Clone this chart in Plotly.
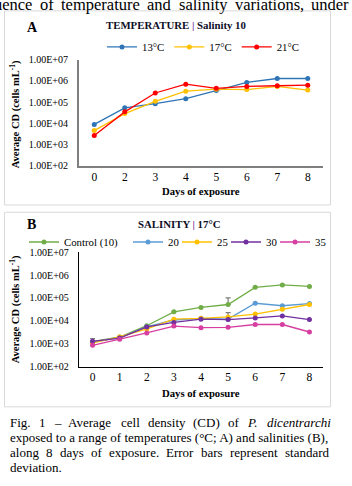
import plotly.graph_objects as go

W, H = 352, 486
def px(x): return x / W
def py(y): return 1 - y / H

SERIF = "Liberation Serif, Times New Roman, Tinos, serif"

# ---------------- data ----------------
days_a = ["0", "2", "3", "4", "5", "6", "7", "8"]
t13 = [9.0e3, 5.4e4, 8.5e4, 1.45e5, 3.5e5, 8.5e5, 1.3e6, 1.3e6]
t17 = [4.6e3, 2.9e4, 1.1e5, 3.3e5, 4.1e5, 3.9e5, 5.5e5, 3.7e5]
t21 = [2.7e3, 3.5e4, 2.7e5, 7.0e5, 4.5e5, 5.5e5, 5.9e5, 6.3e5]

days_b = ["0", "1", "2", "3", "4", "5", "6", "7", "8"]
ctrl = [1.25e3, 2.0e3, 6.2e3, 2.5e4, 3.9e4, 5.2e4, 2.9e5, 3.7e5, 3.2e5]
s20 = [1.2e3, 1.9e3, 5.5e3, 1.1e4, 1.3e4, 1.2e4, 5.9e4, 4.6e4, 5.7e4]
s25 = [1.1e3, 2.0e3, 4.5e3, 1.2e4, 1.3e4, 1.5e4, 2.0e4, 3.2e4, 5.2e4]
s30 = [1.3e3, 1.8e3, 5.5e3, 8.6e3, 1.2e4, 1.15e4, 1.35e4, 1.65e4, 1.15e4]
s35 = [8.7e2, 1.6e3, 3.0e3, 6.0e3, 5.1e3, 5.3e3, 7.0e3, 7.0e3, 3.3e3]
ctrl_sd = [4.5e2, None, None, None, None, 5.0e4, None, None, None]
s20_sd = [None, None, None, None, None, 1.1e4, None, None, None]

tick_vals = [1e2, 1e3, 1e4, 1e5, 1e6, 1e7]
tick_text = ["1.00E+02", "1.00E+03", "1.00E+04", "1.00E+05", "1.00E+06", "1.00E+07"]

fig = go.Figure()

def add(x, y, name, color, xa, ya, leg, sd=None, lw=None):
    err = None
    if sd is not None:
        err = dict(type="data", array=sd, arrayminus=[0 if v is not None else None for v in sd],
                   symmetric=False, color="#7f7f7f", thickness=1.2, width=2.5, visible=True)
    kw = {}
    if lw is not None:
        kw["legendwidth"] = lw
    fig.add_trace(go.Scatter(
        x=x, y=y, name=name, mode="lines+markers",
        line=dict(color=color, width=1.3),
        marker=dict(color=color, size=5, symbol="circle"),
        xaxis=xa, yaxis=ya, legend=leg, error_y=err, **kw))

add(days_a, t13, "13°C", "#2E75B6", "x", "y", "legend")
add(days_a, t17, "17°C", "#FFC000", "x", "y", "legend")
add(days_a, t21, "21°C", "#FF0000", "x", "y", "legend")

add(days_b, ctrl, "Control (10)", "#70AD47", "x2", "y2", "legend2", ctrl_sd)
add(days_b, s20, "20", "#5B9BD5", "x2", "y2", "legend3", s20_sd, lw=4)
add(days_b, s25, "25", "#FFC000", "x2", "y2", "legend3", lw=4)
add(days_b, s30, "30", "#7030A0", "x2", "y2", "legend3", lw=4)
add(days_b, s35, "35", "#D63FA0", "x2", "y2", "legend3", lw=14)

tickf = dict(family=SERIF, size=10, color="#000")
xcommon = dict(type="category", showline=True, ticks="", showgrid=False, zeroline=False,
               tickfont=dict(family=SERIF, size=11.5, color="#000"), ticklabelstandoff=-1)
ycommon = dict(type="log", range=[2, 7], tickvals=tick_vals, ticktext=tick_text, ticks="",
               showline=True, showgrid=False, zeroline=False, tickfont=tickf, ticklabelstandoff=7)

legfont = dict(family=SERIF, size=10.8, color="#000")
legcommon = dict(orientation="h", yanchor="middle", font=legfont, bgcolor="rgba(0,0,0,0)",
                 itemwidth=30, tracegroupgap=0)
fig.update_layout(
    width=W, height=H, margin=dict(l=0, r=0, t=0, b=0),
    paper_bgcolor="white", plot_bgcolor="white",
    font=dict(family=SERIF, color="#000"),
    xaxis=dict(domain=[px(79), px(323)], anchor="y", range=[-0.5, 7.5],
               linecolor="#7f7f7f", linewidth=2, **xcommon),
    yaxis=dict(domain=[py(164), py(55)], anchor="x", linecolor="#7f7f7f", linewidth=2, **ycommon),
    xaxis2=dict(domain=[px(79), px(323)], anchor="y2", range=[-0.5, 8.5],
                linecolor="#000", linewidth=1.3, **xcommon),
    yaxis2=dict(domain=[py(370), py(252.3)], anchor="x2", linecolor="#000", linewidth=1.3, **ycommon),
    legend=dict(x=px(203), xanchor="center", y=py(42), **legcommon),
    legend2=dict(x=px(24), xanchor="left", y=py(242), **legcommon),
    legend3=dict(x=px(128), xanchor="left", y=py(242), **legcommon),
    showlegend=True,
)

shapes = [
    dict(type="rect", xref="paper", yref="paper", x0=px(4.5), x1=px(330.5), y0=py(204), y1=py(5),
         line=dict(color="#d9d9d9", width=1)),
    dict(type="rect", xref="paper", yref="paper", x0=px(4.5), x1=px(330.5), y0=py(411), y1=py(211.5),
         line=dict(color="#d9d9d9", width=1)),
]
fig.update_layout(shapes=shapes)

ann = []
def A(text, x, y, size=12, xanchor="left", yanchor="middle", textangle=0, color="#000"):
    ann.append(dict(text=text, x=px(x), y=py(y), xref="paper", yref="paper", showarrow=False,
                    xanchor=xanchor, yanchor=yanchor, textangle=textangle,
                    font=dict(family=SERIF, size=size, color=color)))

# approximate Times advance widths (per 1000 em) for justified placement
TW = dict(zip("abcdefghijklmnopqrstuvwxyz",
              [444, 500, 444, 500, 444, 333, 500, 500, 278, 278, 500, 278, 778, 500, 500, 500, 500,
               333, 389, 278, 500, 500, 722, 500, 500, 444]))
TW.update({".": 250, ",": 250, "(": 333, ")": 333, "–": 500, "1": 500, "8": 500, "F": 556,
           "E": 611, "A": 722, "P": 611, "C": 667, "D": 722, ";": 278, "°": 400})

def wwidth(word, size):
    return sum(TW.get(c, 500) for c in word) * size / 1000

def justify(words, x0, x1, y, size):
    """words: list of (text, italic). Place with equal gaps between x0 and x1."""
    widths = [wwidth(w, size) for w, _ in words]
    gap = (x1 - x0 - sum(widths)) / (len(words) - 1)
    x = x0
    for (w, it), wd in zip(words, widths):
        A(f"<i>{w}</i>" if it else w, x, y, size=size)
        x += wd + gap

# clipped running text at top
top_words = [(w, False) for w in "influence of temperature and salinity variations, under".split()]
justify(top_words, -31, 347, -1.5, 16.5)

# panel labels and titles
A("<b>A</b>", 25, 22, size=14)
A("<b>TEMPERATURE <span style='color:#7030A0'>|</span> Salinity 10</b>", 176, 19, size=10.8,
  xanchor="center", color="#0d0d26")
A("<b>B</b>", 25, 224, size=14)
A("<b>SALINITY <span style='color:#7030A0'>|</span> 17°C</b>", 179, 223.5, size=10.8,
  xanchor="center", color="#0d0d26")

# axis titles
A("<b>Days of exposure</b>", 201, 190, size=10.7, xanchor="center")
A("<b>Days of exposure</b>", 201, 397, size=10.7, xanchor="center")
A("<b>Average CD (cells mL<sup>-1</sup>)</b>", 15, 111, size=10.5, xanchor="center", textangle=-90)
A("<b>Average CD (cells mL<sup>-1</sup>)</b>", 15, 311, size=10.5, xanchor="center", textangle=-90)

# caption
cap = 13
line1 = [(w, False) for w in "Fig. 1 – Average cell density (CD) of".split()] + \
        [("P.", True), ("dicentrarchi", True)]
justify(line1, 8, 327, 427, cap)
A("exposed to a range of temperatures (°C; A) and salinities (B),", 8, 442.7, size=cap)
line3 = [(w, False) for w in "along 8 days of exposure. Error bars represent standard".split()]
justify(line3, 8, 327, 458, cap)
A("deviation.", 8, 473, size=cap)

fig.update_layout(annotations=ann)
fig.write_html("out.html")
